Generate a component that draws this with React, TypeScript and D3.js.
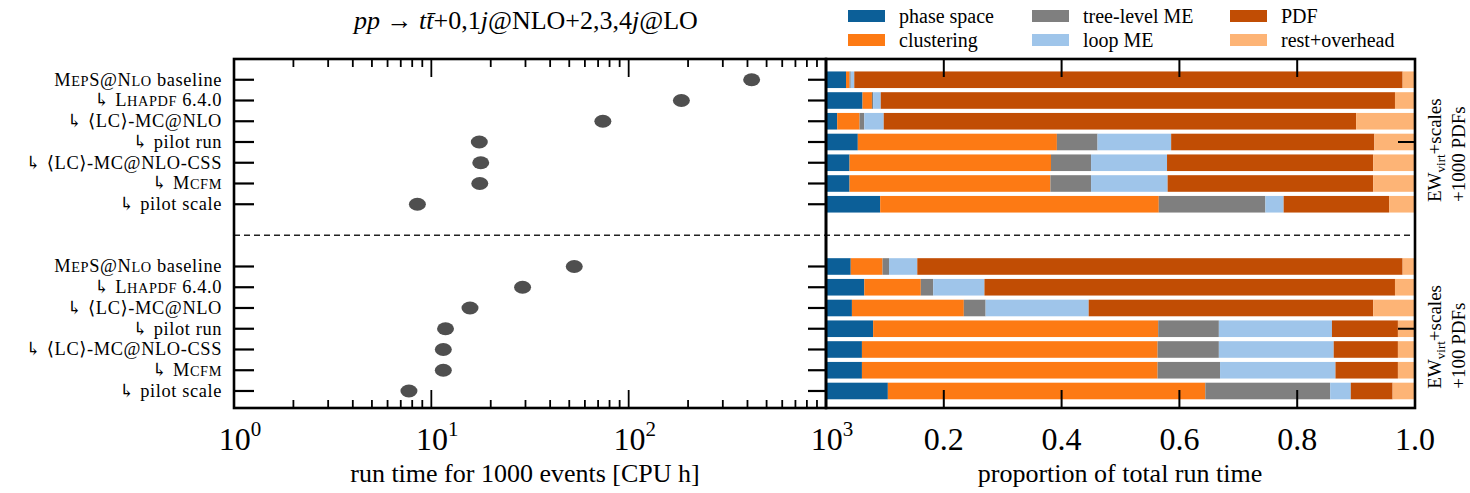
import React from "react";
import * as d3 from "d3";

const width = 1470;
const height = 493;

// row labels (text in {} is set in small caps)
const categories = [
  "M{ep}S@N{lo} baseline",
  "↳ L{hapdf} 6.4.0",
  "↳ ⟨LC⟩-MC@NLO",
  "↳ pilot run",
  "↳ ⟨LC⟩-MC@NLO-CSS",
  "↳ M{cfm}",
  "↳ pilot scale",
];

// run time for 1000 events [CPU h]
const runTime1000 = [420, 185, 74, 17.5, 17.8, 17.6, 8.5];
const runTime100 = [53, 29, 15.7, 11.8, 11.5, 11.5, 7.7];

// proportions, EW_virt + scales + 1000 PDFs
const phaseSpace1000 = [0.034, 0.062, 0.019, 0.054, 0.04, 0.04, 0.092];
const clustering1000 = [0.006, 0.016, 0.038, 0.338, 0.342, 0.341, 0.473];
const treeME1000 = [0.002, 0.002, 0.008, 0.069, 0.068, 0.069, 0.181];
const loopME1000 = [0.006, 0.013, 0.033, 0.125, 0.129, 0.13, 0.031];
const pdf1000 = [0.931, 0.873, 0.802, 0.345, 0.35, 0.349, 0.179];
const rest1000 = [0.021, 0.034, 0.1, 0.069, 0.071, 0.071, 0.044];

// proportions, EW_virt + scales + 100 PDFs
const phaseSpace100 = [0.042, 0.065, 0.044, 0.08, 0.061, 0.061, 0.105];
const clustering100 = [0.054, 0.096, 0.19, 0.484, 0.502, 0.502, 0.539];
const treeME100 = [0.011, 0.021, 0.037, 0.103, 0.104, 0.106, 0.212];
const loopME100 = [0.048, 0.087, 0.175, 0.192, 0.195, 0.196, 0.035];
const pdf100 = [0.824, 0.697, 0.483, 0.112, 0.109, 0.106, 0.071];
const rest100 = [0.021, 0.034, 0.071, 0.029, 0.029, 0.029, 0.038];

const components = ["phase space", "clustering", "tree-level ME", "loop ME", "PDF", "rest+overhead"];
const colors = ["#0c5f98", "#fd7a14", "#7f7f7f", "#9fc5ea", "#c14d04", "#fdb476"];
const propTicks = [0.2, 0.4, 0.6, 0.8, 1.0];

const font = "'Liberation Serif', 'DejaVu Serif', serif";

const xLog = d3.scaleLog().domain([1, 1000]).range([234, 826]);
const xProp = d3.scaleLinear().domain([0, 1]).range([826, 1415]);
const y = d3.scaleLinear().domain([-1, 15.82]).range([59, 408]);
const top = y(-1);
const bottom = y(15.82);
const rowStep = y(1) - y(0);
const barH = rowStep * 0.8;

const makeRows = (arrs: number[][]) =>
  categories.map((c, i) => {
    const r: any = { name: c };
    components.forEach((k, j) => (r[k] = arrs[j][i]));
    return r;
  });

const groups = [
  {
    offset: 0,
    runTime: runTime1000,
    rows: makeRows([phaseSpace1000, clustering1000, treeME1000, loopME1000, pdf1000, rest1000]),
    pdfs: "+1000 PDFs",
  },
  {
    offset: 9,
    runTime: runTime100,
    rows: makeRows([phaseSpace100, clustering100, treeME100, loopME100, pdf100, rest100]),
    pdfs: "+100 PDFs",
  },
];

const stack = d3.stack<any>().keys(components);

function rich(s: string) {
  return s.split(/(\{[^}]*\})/).filter(Boolean).map((p, i) =>
    p.startsWith("{") ? (
      <tspan key={i} fontSize="0.78em">{p.slice(1, -1).toUpperCase()}</tspan>
    ) : (
      <tspan key={i}>{p}</tspan>
    )
  );
}

export default function App() {
  const logTicks = xLog.ticks();
  const isMajor = (t: number) => Math.abs(Math.log10(t) - Math.round(Math.log10(t))) < 1e-9;

  return (
    <svg
      width={width}
      height={height}
      style={{ position: "absolute", left: 0, top: 0, background: "#fff" }}
      fontFamily={font}
    >
      {/* title */}
      <text x={526} y={29} textAnchor="middle" fontSize={26}>
        <tspan fontStyle="italic">pp</tspan> → <tspan fontStyle="italic">t</tspan>
        <tspan fontStyle="italic">t̄</tspan>+0,1<tspan fontStyle="italic">j</tspan>@NLO+2,3,4
        <tspan fontStyle="italic">j</tspan>@LO
      </text>

      {/* legend */}
      {components.map((c, i) => {
        const col = Math.floor(i / 2);
        const row = i % 2;
        const lx = [848, 1032, 1230][col];
        const ly = 10 + row * 24;
        return (
          <g key={c}>
            <rect x={lx} y={ly} width={37} height={12} fill={colors[i]} />
            <text x={lx + 51} y={ly + 13} fontSize={20}>
              {c}
            </text>
          </g>
        );
      })}

      {/* stacked bars */}
      {groups.map((g) =>
        stack(g.rows).map((layer, k) =>
          layer.map((d, i) => (
            <rect
              key={`${g.offset}-${k}-${i}`}
              x={xProp(d[0])}
              width={Math.max(0, xProp(d[1]) - xProp(d[0]))}
              y={y(g.offset + i) - barH / 2}
              height={barH}
              fill={colors[k]}
            />
          ))
        )
      )}

      {/* run time points */}
      {groups.map((g) =>
        g.runTime.map((v, i) => (
          <ellipse key={`p${g.offset}-${i}`} cx={xLog(v)} cy={y(g.offset + i)} rx={8.5} ry={6.5} fill="#4f4f4f" />
        ))
      )}

      {/* row labels and ticks */}
      {groups.map((g) =>
        categories.map((c, i) => {
          const yy = y(g.offset + i);
          return (
            <g key={`l${g.offset}-${i}`}>
              <text x={222} y={yy + 6} textAnchor="end" fontSize={18.4} letterSpacing={0.6}>
                {rich(c)}
              </text>
              <line x1={xLog(1)} x2={xLog(1) + 20} y1={yy} y2={yy} stroke="#000" strokeWidth={2.2} />
              <line x1={xLog(1000) - 18} x2={xLog(1000)} y1={yy} y2={yy} stroke="#000" strokeWidth={2.2} />
            </g>
          );
        })
      )}

      {/* log axis ticks, top and bottom */}
      {logTicks.map((t) => {
        const len = isMajor(t) ? 18 : 8;
        const xx = xLog(t);
        return (
          <g key={`lt${t}`}>
            <line x1={xx} x2={xx} y1={top} y2={top + len} stroke="#000" strokeWidth={1.8} />
            <line x1={xx} x2={xx} y1={bottom} y2={bottom - len} stroke="#000" strokeWidth={1.8} />
          </g>
        );
      })}
      {logTicks.filter(isMajor).map((t) => (
        <text key={`ll${t}`} x={xLog(t) + 6} y={450} textAnchor="middle" fontSize={32}>
          10
          <tspan fontSize={21} dy={-14}>
            {Math.round(Math.log10(t))}
          </tspan>
        </text>
      ))}

      {/* proportion axis ticks */}
      {propTicks.map((t) => (
        <g key={`pt${t}`}>
          {t < 1 && (
            <>
              <line x1={xProp(t)} x2={xProp(t)} y1={top} y2={top + 18} stroke="#000" strokeWidth={2} />
              <line x1={xProp(t)} x2={xProp(t)} y1={bottom} y2={bottom - 18} stroke="#000" strokeWidth={2} />
            </>
          )}
          <text x={xProp(t)} y={450} textAnchor="middle" fontSize={32}>
            {d3.format(".1f")(t)}
          </text>
        </g>
      ))}

      {/* group ticks and labels on the right */}
      {groups.map((g) => {
        const yy = y(g.offset + 3);
        return (
          <g key={`r${g.offset}`}>
            <line x1={xProp(1) - 17} x2={xProp(1)} y1={yy} y2={yy} stroke="#000" strokeWidth={2} />
            <text transform={`translate(1441,${yy + 60}) rotate(-90)`} fontSize={19}>
              EW
              <tspan fontSize={13} dy={4}>
                virt
              </tspan>
              <tspan dy={-4}>+scales</tspan>
            </text>
            <text transform={`translate(1465,${yy + 60}) rotate(-90)`} fontSize={19}>
              {g.pdfs}
            </text>
          </g>
        );
      })}

      {/* separator */}
      <line
        x1={xLog(1)}
        x2={xProp(1)}
        y1={y(7.5)}
        y2={y(7.5)}
        stroke="#222"
        strokeWidth={1.5}
        strokeDasharray="6,4"
      />

      {/* frames */}
      <rect x={xLog(1)} y={top} width={xLog(1000) - xLog(1)} height={bottom - top} fill="none" stroke="#000" strokeWidth={2.6} />
      <rect x={xProp(0)} y={top} width={xProp(1) - xProp(0)} height={bottom - top} fill="none" stroke="#000" strokeWidth={2.6} />

      {/* axis titles */}
      <text x={525} y={482} textAnchor="middle" fontSize={26}>
        run time for 1000 events [CPU h]
      </text>
      <text x={1120} y={482} textAnchor="middle" fontSize={26}>
        proportion of total run time
      </text>
    </svg>
  );
}
